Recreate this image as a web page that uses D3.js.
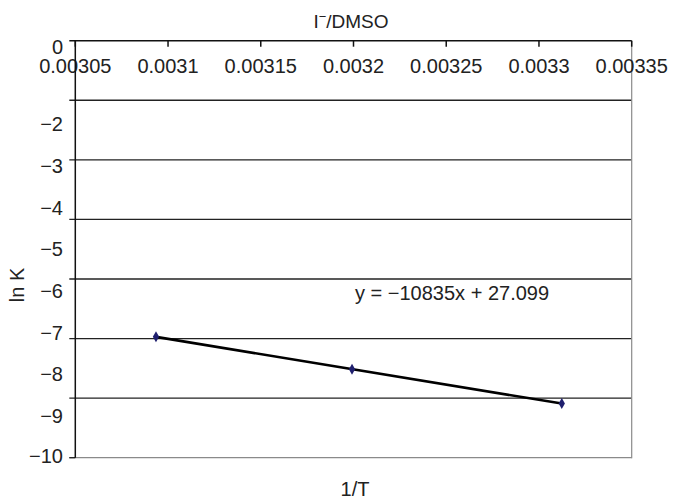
<!DOCTYPE html>
<html>
<head>
<meta charset="utf-8">
<script src="https://cdn.jsdelivr.net/npm/d3@7"></script>
<style>
  html, body { margin: 0; padding: 0; background: #fff; }
  svg { display: block; }
  text { font-family: "Liberation Sans", Arial, Helvetica, sans-serif; fill: #222; }
</style>
</head>
<body>
<script>
// ---- data ----
const invT = [0.0030935, 0.0031992, 0.0033123];
const lnK = [-7.10, -7.88, -8.70];
const xTickValues = [0.00305, 0.0031, 0.00315, 0.0032, 0.00325, 0.0033, 0.00335];
const xTickLabels = ["0.00305", "0.0031", "0.00315", "0.0032", "0.00325", "0.0033", "0.00335"];
const yTickValues = [0, -2, -3, -4, -5, -6, -7, -8, -9, -10];
const yTickLabels = ["0", "\u22122", "\u22123", "\u22124", "\u22125", "\u22126", "\u22127", "\u22128", "\u22129", "\u221210"];
const gridCount = 7;            // number of horizontal bands in the plot area
const equationText = "y = \u221210835x + 27.099";

// ---- layout ----
const W = 675, H = 500;
const pLeft = 75.3, pRight = 631.7, pTop = 40.7, pBottom = 457.7;

const svg = d3.select("body").append("svg").attr("width", W).attr("height", H);
svg.append("rect").attr("width", W).attr("height", H).attr("fill", "#fff");

const x = d3.scaleLinear().domain([0.00305, 0.00335]).range([pLeft, pRight]);
const y = d3.scaleLinear().domain([0, -10]).range([pTop, pBottom]);
const yGrid = d3.scaleLinear().domain([0, gridCount]).range([pTop, pBottom]);

// gridlines
const gridIdx = d3.range(1, gridCount);
svg.append("g").selectAll("line").data(gridIdx).join("line")
  .attr("x1", pLeft - 6).attr("x2", pRight)
  .attr("y1", d => yGrid(d)).attr("y2", d => yGrid(d))
  .attr("stroke", "#222").attr("stroke-width", 1.3);

// bottom line & right border (gray)
svg.append("line").attr("x1", pLeft - 6).attr("x2", pRight).attr("y1", pBottom).attr("y2", pBottom)
  .attr("stroke", "#8a8a8a").attr("stroke-width", 1.3);
svg.append("line").attr("x1", pRight).attr("x2", pRight).attr("y1", pTop).attr("y2", pBottom + 0.6)
  .attr("stroke", "#8a8a8a").attr("stroke-width", 1.2);
svg.append("line").attr("x1", pLeft - 6).attr("x2", pLeft).attr("y1", pBottom).attr("y2", pBottom)
  .attr("stroke", "#222").attr("stroke-width", 1.3);

// top axis (x axis at y = 0)
svg.append("line").attr("x1", pLeft - 6).attr("x2", pRight).attr("y1", pTop).attr("y2", pTop)
  .attr("stroke", "#111").attr("stroke-width", 1.5);
svg.append("g").selectAll("line").data(xTickValues).join("line")
  .attr("x1", d => x(d)).attr("x2", d => x(d))
  .attr("y1", pTop).attr("y2", pTop + 6)
  .attr("stroke", "#111").attr("stroke-width", 1.5);
svg.append("g").selectAll("text").data(xTickValues).join("text")
  .attr("x", d => x(d)).attr("y", 72.5)
  .attr("text-anchor", "middle")
  .style("font-size", "20px")
  .text((d, i) => xTickLabels[i]);

// left axis
svg.append("line").attr("x1", pLeft).attr("x2", pLeft).attr("y1", pTop).attr("y2", pBottom)
  .attr("stroke", "#111").attr("stroke-width", 1.5);

// y tick labels
svg.append("g").selectAll("text").data(yTickValues).join("text")
  .attr("x", 63)
  .attr("y", d => Math.min(Math.max(y(d), pTop + 6), pBottom - 2))
  .attr("dy", "0.35em")
  .attr("text-anchor", "end")
  .style("font-size", "20px")
  .text((d, i) => yTickLabels[i]);

// trendline (least squares from data)
const mx = d3.mean(invT), my = d3.mean(lnK);
const slope = d3.sum(invT.map((v, i) => (v - mx) * (lnK[i] - my))) / d3.sum(invT.map(v => (v - mx) ** 2));
const icpt = my - slope * mx;
const xr = d3.extent(invT);
svg.append("line")
  .attr("x1", x(xr[0])).attr("y1", y(slope * xr[0] + icpt))
  .attr("x2", x(xr[1])).attr("y2", y(slope * xr[1] + icpt))
  .attr("stroke", "#000").attr("stroke-width", 2.6);

// markers
svg.append("g").selectAll("path").data(invT).join("path")
  .attr("transform", (d, i) => `translate(${x(d)},${y(lnK[i])})`)
  .attr("d", d3.symbol(d3.symbolDiamond, 34))
  .attr("fill", "#1f1f6e");

// equation
svg.append("text").attr("x", 355).attr("y", 300)
  .style("font-size", "20px").text(equationText);

// title
const title = svg.append("text").attr("x", 351).attr("y", 28)
  .attr("text-anchor", "middle").style("font-size", "19px");
title.append("tspan").text("I");
title.append("tspan").attr("dy", -7).style("font-size", "13px").text("\u2212");
title.append("tspan").attr("dy", 7).text("/DMSO");

// axis titles
svg.append("text").attr("x", 355).attr("y", 496)
  .attr("text-anchor", "middle").style("font-size", "20px").text("1/T");
svg.append("text")
  .attr("transform", "translate(24,285) rotate(-90)")
  .attr("text-anchor", "middle").style("font-size", "20px").text("ln K");
</script>
</body>
</html>
